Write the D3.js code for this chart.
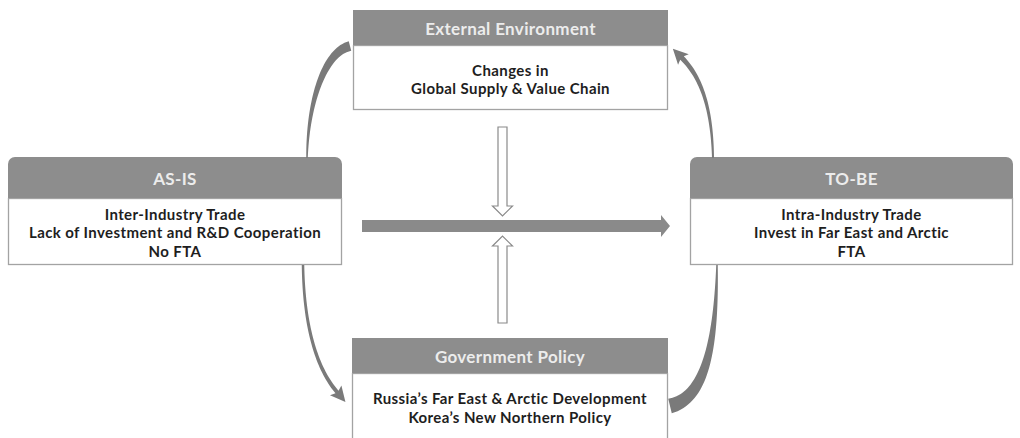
<!DOCTYPE html>
<html>
<head>
<meta charset="utf-8">
<script src="https://cdn.jsdelivr.net/npm/d3@7"></script>
<style>
  body { margin: 0; background: #fff; }
  svg text { font-family: Lato, "Noto Sans", sans-serif; font-weight: bold; }
</style>
</head>
<body>
<svg id="chart" width="1020" height="438"></svg>
<script>
// diagram content
const boxIds = ["asis", "tobe", "ext", "gov"];
const boxTitles = ["AS-IS", "TO-BE", "External Environment", "Government Policy"];
const boxLines = [
  ["Inter-Industry Trade", "Lack of Investment and R&D Cooperation", "No FTA"],
  ["Intra-Industry Trade", "Invest in Far East and Arctic", "FTA"],
  ["Changes in", "Global Supply & Value Chain"],
  ["Russia\u2019s Far East & Arctic Development", "Korea\u2019s New Northern Policy"]
];

// layout (pixels): ty = first line centre, lh = line step
const layout = {
  asis: {x: 8, y: 157, w: 334, hh: 41, bh: 67, r: 7, ty: 214.5, lh: 18.3},
  tobe: {x: 690, y: 157, w: 323, hh: 41, bh: 67, r: 7, ty: 214.5, lh: 18.3},
  ext:  {x: 353, y: 10, w: 315, hh: 35, bh: 65, r: 0, ty: 70.5, lh: 18.1},
  gov:  {x: 352, y: 338, w: 316, hh: 35, bh: 70, r: 0, ty: 399, lh: 18.1}
};

const headFill = "#8d8d8d", headText = "#ececec", border = "#a3a3a3", arrowFill = "#7a7a7a";

const svg = d3.select("#chart");

function topRounded(x, y, w, h, r) {
  const p = d3.path();
  p.moveTo(x, y + h);
  p.lineTo(x, y + r);
  p.arcTo(x, y, x + r, y, r);
  p.lineTo(x + w - r, y);
  p.arcTo(x + w, y, x + w, y + r, r);
  p.lineTo(x + w, y + h);
  p.closePath();
  return p.toString();
}

boxIds.forEach((id, i) => {
  const L = layout[id];
  const g = svg.append("g");
  g.append("rect")
    .attr("x", L.x + 0.5).attr("y", L.y + L.hh + 0.5)
    .attr("width", L.w - 1).attr("height", L.bh - 1)
    .attr("fill", "#fff").attr("stroke", border).attr("stroke-width", 1.3);
  g.append("path")
    .attr("d", topRounded(L.x, L.y, L.w, L.hh, L.r))
    .attr("fill", headFill);
  g.append("text")
    .attr("x", L.x + L.w / 2).attr("y", L.y + L.hh / 2 + 1)
    .attr("dy", "0.36em").attr("text-anchor", "middle")
    .attr("font-size", 17).attr("letter-spacing", 0.35).attr("fill", headText)
    .text(boxTitles[i]);
  // body lines as one text block
  const t = g.append("text")
    .attr("text-anchor", "middle").attr("font-size", 15).attr("letter-spacing", 0.4)
    .attr("fill", "#1e1e1e");
  t.selectAll("tspan").data(boxLines[i]).enter().append("tspan")
    .attr("x", L.x + L.w / 2)
    .attr("y", (d, j) => L.ty + j * L.lh + 5.4)
    .text(d => d);
});

// central arrow
const mid = {x0: 362, x1: 670, y: 226, sw: 12, hw: 22, hl: 9};
svg.append("path")
  .attr("d", d3.line()([
    [mid.x0, mid.y - mid.sw / 2], [mid.x1 - mid.hl, mid.y - mid.sw / 2], [mid.x1 - mid.hl, mid.y - mid.hw / 2],
    [mid.x1, mid.y], [mid.x1 - mid.hl, mid.y + mid.hw / 2], [mid.x1 - mid.hl, mid.y + mid.sw / 2],
    [mid.x0, mid.y + mid.sw / 2]
  ]) + "Z")
  .attr("fill", "#8a8a8a");

// hollow vertical arrows
function vArrow(cx, yStart, yTip) {
  const dir = yTip > yStart ? 1 : -1;
  const sw = 9, hw = 20, hl = 10;
  const yb = yTip - dir * hl;
  return d3.line()([
    [cx - sw / 2, yStart], [cx - sw / 2, yb], [cx - hw / 2, yb], [cx, yTip],
    [cx + hw / 2, yb], [cx + sw / 2, yb], [cx + sw / 2, yStart]
  ]) + "Z";
}
svg.append("path").attr("d", vArrow(502.5, 127, 216))
  .attr("fill", "#fff").attr("stroke", "#8a8a8a").attr("stroke-width", 1.2);
svg.append("path").attr("d", vArrow(502.5, 323, 236))
  .attr("fill", "#fff").attr("stroke", "#8a8a8a").attr("stroke-width", 1.2);

// tapered curved arrows
function bez(P, t) {
  const u = 1 - t;
  return [
    u*u*u*P[0][0] + 3*u*u*t*P[1][0] + 3*u*t*t*P[2][0] + t*t*t*P[3][0],
    u*u*u*P[0][1] + 3*u*u*t*P[1][1] + 3*u*t*t*P[2][1] + t*t*t*P[3][1]
  ];
}
function curvedArrow(P, w0, w1, head) {
  const n = 40, left = [], right = [];
  let last = null;
  for (let k = 0; k <= n; k++) {
    const t = k / n;
    const a = bez(P, Math.max(0, t - 0.01)), b = bez(P, Math.min(1, t + 0.01));
    let dx = b[0] - a[0], dy = b[1] - a[1];
    const len = Math.hypot(dx, dy); dx /= len; dy /= len;
    const p = bez(P, t), w = (w0 + (w1 - w0) * t) / 2;
    left.push([p[0] - dy * w, p[1] + dx * w]);
    right.push([p[0] + dy * w, p[1] - dx * w]);
    last = {p, dx, dy};
  }
  let pts = left.slice();
  if (head) {
    const {p, dx, dy} = last;
    const hw = head.w / 2;
    pts.push([p[0] - dy * hw - dx * 2, p[1] + dx * hw - dy * 2]);
    pts.push([p[0] + dx * head.l, p[1] + dy * head.l]);
    pts.push([p[0] + dy * hw - dx * 2, p[1] - dx * hw - dy * 2]);
  }
  pts = pts.concat(right.reverse());
  return d3.line()(pts) + "Z";
}

const curves = [
  {P: [[307, 158], [308, 100], [325, 52], [350, 46]], w0: 1.5, w1: 10, head: null},
  {P: [[303, 265], [304, 330], [318, 370], [337, 392]], w0: 2.5, w1: 4, head: {w: 15, l: 13}},
  {P: [[713, 158], [712, 110], [702, 78], [682, 58]], w0: 2, w1: 5, head: {w: 15, l: 13}},
  {P: [[717, 265], [716, 345], [705, 398], [670, 406]], w0: 1.5, w1: 15, head: null}
];
curves.forEach(c => {
  svg.append("path").attr("d", curvedArrow(c.P, c.w0, c.w1, c.head)).attr("fill", arrowFill);
});
</script>
</body>
</html>
